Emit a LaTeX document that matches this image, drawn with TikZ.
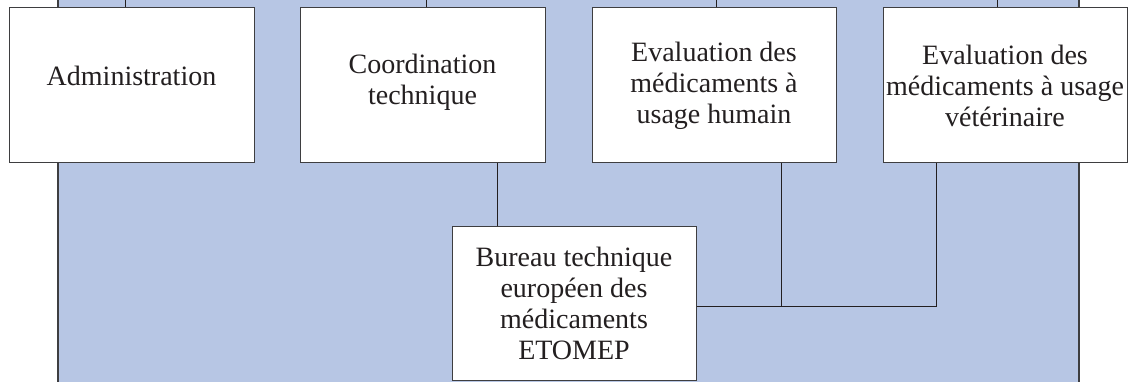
\documentclass[tikz,border=0pt]{standalone}
\usepackage{fontspec}
\setmainfont{Liberation Serif}
\definecolor{bg}{RGB}{183,198,228}
\definecolor{ln}{RGB}{35,31,32}
\definecolor{bd}{RGB}{62,62,64}
\begin{document}
\begin{tikzpicture}[x=1pt,y=-1pt,
  box/.style={draw=bd, line width=1pt, fill=white, minimum width=244pt,
    minimum height=155pt, inner sep=0pt, align=center,
    font=\fontsize{28}{31}\selectfont, text=ln},
  conn/.style={draw=ln, line width=1pt},
  frameline/.style={draw=bd, line width=1.6pt}]
\useasboundingbox (0,0) rectangle (1131,382);
\clip (0,0) rectangle (1131,382);
% background area
\fill[bg] (58,-5) rectangle (1079,390);
\draw[frameline] (58,-5) -- (58,390);
\draw[frameline] (1079,-5) -- (1079,390);
% free ends at the top
\coordinate (ta) at (125,-2);
\coordinate (tc) at (426,-2);
\coordinate (th) at (716,-2);
\coordinate (tv) at (997,-2);
% boxes
\node[box, minimum width=245pt, text depth=20pt] (admin) at (131.5,85.5) {Administration};
\node[box, minimum width=245pt, text depth=13pt] (coord) at (422.5,85.5) {Coordination\\technique};
\node[box] (eh) at (714,85.5) {Evaluation des\\m\'edicaments \`a\\usage humain};
\node[box] (ev) at (1005,85.5) {Evaluation des\\m\'edicaments \`a usage\\v\'et\'erinaire};
\node[box, minimum height=154pt] (bureau) at (574,303) {Bureau technique\\europ\'een des\\m\'edicaments\\ETOMEP};
% top connectors
\draw[conn] (ta) -- (admin.north -| ta);
\draw[conn] (tc) -- (coord.north -| tc);
\draw[conn] (th) -- (eh.north -| th);
\draw[conn] (tv) -- (ev.north -| tv);
% lower connectors
\path ([xshift=74.5pt]coord.south) coordinate (cf);
\draw[conn] (cf) -- (cf |- bureau.north);
\path ([yshift=-3pt]bureau.east) coordinate (be);
\path ([xshift=67pt]eh.south) coordinate (hf);
\path ([xshift=-69pt]ev.south) coordinate (vf);
\draw[conn] (be) -- (vf |- be) -- (vf);
\draw[conn] (hf) -- (hf |- be);
\end{tikzpicture}
\end{document}
